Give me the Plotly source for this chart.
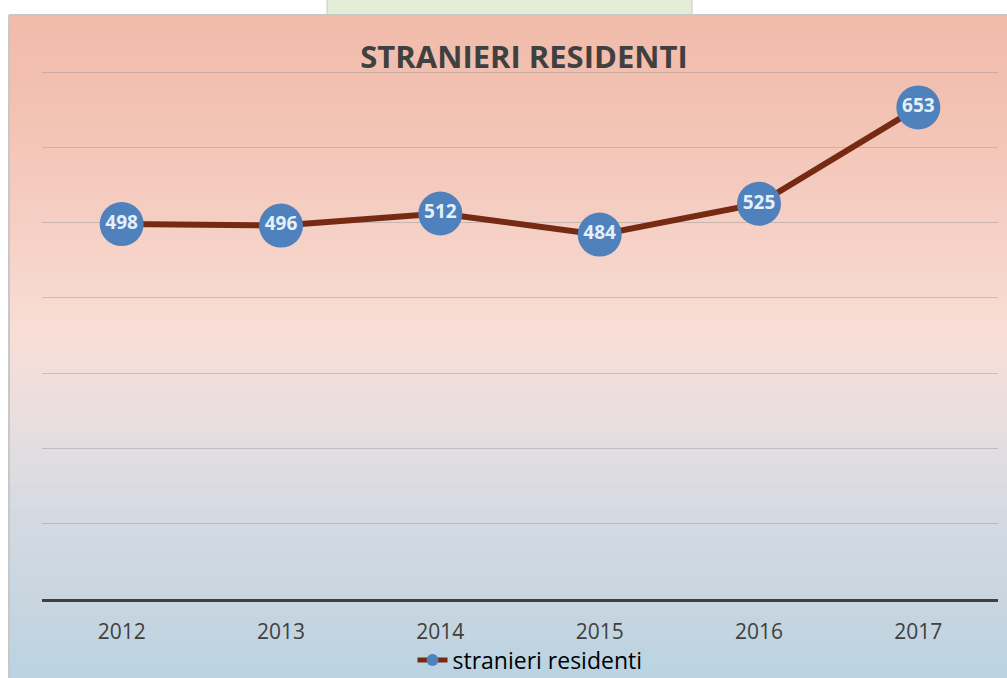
import plotly.graph_objects as go

years = ["2012", "2013", "2014", "2015", "2016", "2017"]
residents = [498, 496, 512, 484, 525, 653]
series_name = "stranieri residenti"
title_text = "STRANIERI RESIDENTI"

W, H = 1007, 678
L, R, T, B = 42, 998, 68, 599  # plot area in pixels
YTOP = 700 * (B - T) / (B - 72)  # value at top edge so that 700 lands at y=72

def px_x(px):
    return (px - L) / (R - L)

def px_y(py):
    return (B - py) / (B - T)

# gradient stops (pixel y, rgb)
stops = [(15, (241, 187, 170)), (90, (242, 192, 176)), (250, (246, 210, 200)),
         (330, (248, 222, 214)), (420, (233, 222, 223)), (520, (211, 218, 226)),
         (600, (200, 214, 224)), (678, (186, 211, 226))]

def color_at(py):
    for (y0, c0), (y1, c1) in zip(stops[:-1], stops[1:]):
        if y0 <= py <= y1:
            t = (py - y0) / (y1 - y0)
            return tuple(round(a + (b - a) * t) for a, b in zip(c0, c1))
    return stops[-1][1]

shapes = []
step = 6
y = 15
while y < H:
    c = color_at(y + step / 2)
    shapes.append(dict(type="rect", xref="paper", yref="paper",
                       x0=px_x(9), x1=px_x(W + 2), y0=px_y(min(y + step + 0.5, H + 2)), y1=px_y(y),
                       fillcolor="rgb(%d,%d,%d)" % c, line=dict(width=0), layer="below"))
    y += step
# page strip on top
shapes.append(dict(type="rect", xref="paper", yref="paper",
                   x0=px_x(327), x1=px_x(692), y0=px_y(15), y1=px_y(-2),
                   fillcolor="rgb(228,238,214)", line=dict(color="rgb(200,200,200)", width=1), layer="below"))
# chart border
shapes.append(dict(type="line", xref="paper", yref="paper", x0=px_x(9), x1=px_x(W + 2),
                   y0=px_y(15), y1=px_y(15), line=dict(color="rgb(200,200,200)", width=2), layer="below"))
shapes.append(dict(type="line", xref="paper", yref="paper", x0=px_x(9), x1=px_x(9),
                   y0=px_y(15), y1=px_y(H + 2), line=dict(color="rgb(200,200,200)", width=2), layer="below"))

fig = go.Figure()
fig.add_trace(go.Scatter(
    x=years, y=residents, name=series_name,
    mode="lines+markers+text",
    line=dict(color="#772A12", width=6),
    marker=dict(size=44, color="#4F81BD"),
    text=[str(v) for v in residents], textposition="middle center",
    textfont=dict(family="Open Sans", size=19, color="#E4F0FA", weight="bold"),
    cliponaxis=False,
))

fig.update_layout(
    width=W, height=H,
    margin=dict(l=L, r=W - R, t=T, b=H - B, pad=0, autoexpand=False),
    paper_bgcolor="white", plot_bgcolor="rgba(0,0,0,0)",
    shapes=shapes,
    title=dict(text="<b>" + title_text + "</b>", x=524 / W, xref="container", xanchor="center",
               y=1 - 57 / H, yanchor="middle",
               font=dict(family="Open Sans", size=31, color="#404040")),
    xaxis=dict(showgrid=False, showline=True, linecolor="#404040", linewidth=3,
               range=[-0.5, 5.5], autorange=False,
               ticks="", tickfont=dict(family="Open Sans", size=21, color="#404040"),
               ticklabelstandoff=12),
    yaxis=dict(range=[0, YTOP], autorange=False, tickvals=[100, 200, 300, 400, 500, 600, 700], showgrid=True,
               gridcolor="rgba(150,150,150,0.45)",
               gridwidth=1, showticklabels=False, zeroline=False),
    showlegend=True,
    legend=dict(orientation="h", xref="container", yref="container", x=530 / W, xanchor="center",
                y=1 - 660 / H, yanchor="middle",
                bgcolor="rgba(0,0,0,0)", font=dict(family="Open Sans", size=23, color="#000000"),
                itemsizing="constant"),
)

fig.write_html("out.html", config={"displayModeBar": False},
               post_script="document.body.style.margin='0';document.body.style.overflow='hidden';")
